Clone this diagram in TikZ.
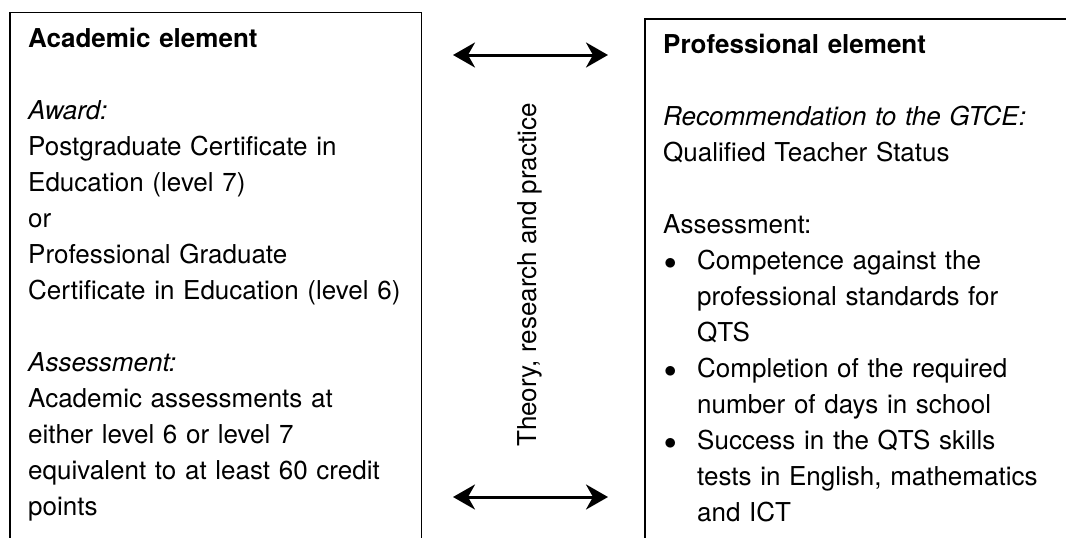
\documentclass[tikz,border=0pt]{standalone}
\usepackage{fontspec}
\setmainfont{TeX Gyre Heros}
\usetikzlibrary{arrows.meta}

\newcommand{\itm}{\makebox[34pt][l]{\hspace{1pt}$\bullet$}}
\newcommand{\ind}{\hspace*{34pt}}

\begin{document}
\begin{tikzpicture}[x=1pt,y=-1pt,
		boxline/.style={line width=1.3pt},
		linkarrow/.style={line width=3pt,{Stealth[length=22pt,width=25pt,inset=7pt]}-{Stealth[length=22pt,width=25pt,inset=7pt]}},
		boxtext/.style={anchor=north west,inner sep=0pt,align=left,text width=400pt,font=\fontsize{26}{36}\selectfont}]
		\useasboundingbox (0,0) rectangle (1066,538);
		\draw[boxline] (10,538) -- (10,12.5) -- (421.5,12.5) -- (421.5,538);
		\draw[boxline] (645,538) -- (645,19) -- (1066,19);
		\node[boxtext] (academic) at (28,21.8) {\strut\textbf{Academic element}\\[36pt]
			\textit{Award:}\\
			Postgraduate Certificate in\\
			Education (level 7)\\
			or\\
			Professional Graduate\\
			Certificate in Education (level 6)\\[36pt]
			\textit{Assessment:}\\
			Academic assessments at\\
			either level 6 or level 7\\
			equivalent to at least 60 credit\\
			points};
		\node[boxtext] (professional) at (663,27.8) {\strut\textbf{Professional element}\\[36pt]
			\textit{Recommendation to the GTCE:}\\
			Qualified Teacher Status\\[36pt]
			Assessment:\\
			\itm Competence against the\\
			\ind professional standards for\\
			\ind QTS\\
			\itm Completion of the required\\
			\ind number of days in school\\
			\itm Success in the QTS skills\\
			\ind tests in English, mathematics\\
			\ind and ICT};
		\node[rotate=90,inner sep=0pt,font=\fontsize{26}{36}\selectfont] (theory) at (530,275) {Theory, research and practice};
		\coordinate (topL) at (453,55);
		\coordinate (topR) at (608,55);
		\coordinate (botL) at (453,497);
		\coordinate (botR) at (608,497);
		\draw[linkarrow] (topL) -- (topR);
		\draw[linkarrow] (botL) -- (botR);
	\end{tikzpicture}
\end{document}
